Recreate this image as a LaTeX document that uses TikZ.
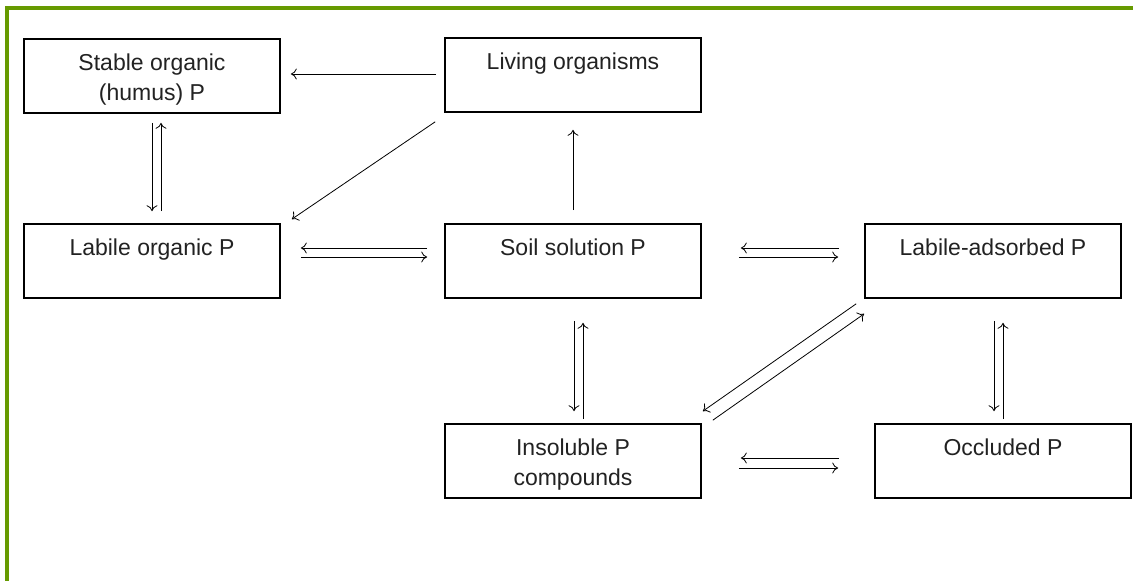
\documentclass[tikz,border=0pt]{standalone}
\usepackage{fontspec}
\setmainfont{Liberation Sans}
\usetikzlibrary{calc,arrows.meta}
\definecolor{frame}{HTML}{669A00}
\definecolor{ink}{HTML}{222222}
\tikzset{
  pbox/.style={draw, line width=1.6pt, minimum width=256pt, minimum height=74pt, inner sep=0pt},
  txt/.style={anchor=north, inner sep=0pt, yshift=-15pt, align=center, text=ink, font=\fontsize{23}{30}\selectfont},
  arr/.style={line width=0.8pt, -{To[length=6pt,width=11pt]}},
}
\begin{document}
\begin{tikzpicture}[x=1pt,y=-1pt]
\useasboundingbox (0,0) rectangle (1133,581);
\fill[white] (0,0) rectangle (1133,581);
\draw[frame, line width=3.6pt] (7,581) -- (7,7.8) -- (1133,7.8);

\node[pbox, label={[txt]north:Stable organic\\(humus) P}] (stab) at (152,76) {};
\node[pbox, label={[txt]north:Living organisms}] (liv) at (573,75) {};
\node[pbox, label={[txt]north:Labile organic P}] (lorg) at (152,261) {};
\node[pbox, label={[txt]north:Soil solution P}] (soil) at (573,261) {};
\node[pbox, label={[txt]north:Labile-adsorbed P}] (lads) at (993,261) {};
\node[pbox, label={[txt]north:Insoluble P\\compounds}] (insol) at (573,461) {};
\node[pbox, label={[txt]north:Occluded P}] (occl) at (1003,461) {};

% Living -> Stable
\draw[arr] ($(liv.west)+(-8,-1)$) -- ($(stab.east)+(10,-2)$);
% Living -> Labile organic
\draw[arr] ($(liv.south west)+(-9,9)$) -- ($(lorg.north east)+(11,-4)$);
% Soil -> Living
\draw[arr] ($(soil.north)+(0,-13)$) -- ($(liv.south)+(0,17)$);
% Stable <-> Labile organic
\draw[arr] ($(stab.south)+(0,9)$) -- ($(lorg.north)+(0,-12)$);
\draw[arr] ($(lorg.north)+(9,-12)$) -- ($(stab.south)+(9,9)$);
% Labile organic <-> Soil
\draw[arr] ($(soil.west)+(-17,-13)$) -- ($(lorg.east)+(20,-13)$);
\draw[arr] ($(lorg.east)+(20,-4)$) -- ($(soil.west)+(-17,-4)$);
% Soil <-> Labile-adsorbed
\draw[arr] ($(lads.west)+(-25,-13)$) -- ($(soil.east)+(39,-13)$);
\draw[arr] ($(soil.east)+(37,-4)$) -- ($(lads.west)+(-26,-4)$);
% Soil <-> Insoluble
\draw[arr] ($(soil.south)+(1,22)$) -- ($(insol.north)+(1,-12)$);
\draw[arr] ($(insol.north)+(10,-4)$) -- ($(soil.south)+(10,24)$);
% Labile-adsorbed <-> Occluded
\draw[arr] ($(lads.south)+(1,22)$) -- ($(occl.north)+(-9,-12)$);
\draw[arr] ($(occl.north)+(0,-4)$) -- ($(lads.south)+(10,24)$);
% Labile-adsorbed <-> Insoluble (diagonal)
\draw[arr] ($(lads.south west)+(-8,5)$) -- ($(insol.north east)+(1,-12)$);
\draw[arr] ($(insol.north east)+(11,-3)$) -- ($(lads.south west)+(0,15)$);
% Insoluble <-> Occluded
\draw[arr] ($(occl.west)+(-35,-3)$) -- ($(insol.east)+(39,-3)$);
\draw[arr] ($(insol.east)+(37,7)$) -- ($(occl.west)+(-36,7)$);
\end{tikzpicture}
\end{document}
